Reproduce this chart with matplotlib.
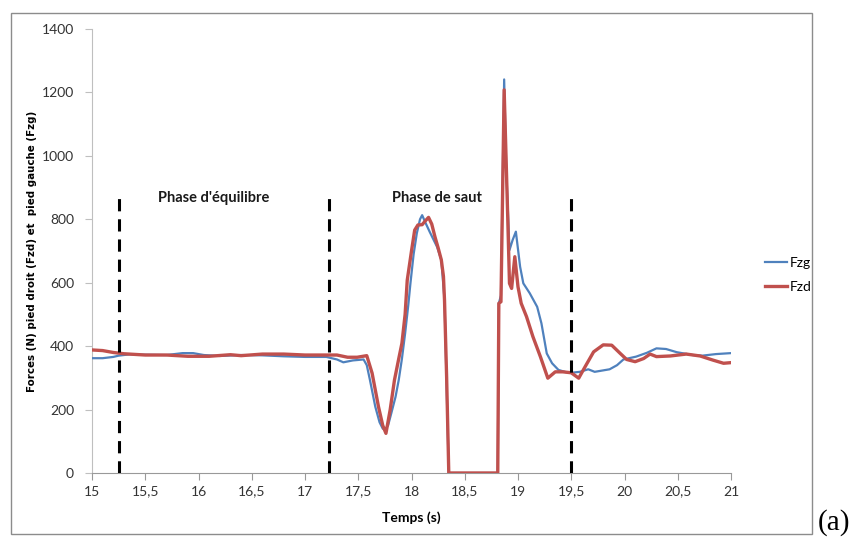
import matplotlib
matplotlib.use("Agg")
import matplotlib.pyplot as plt
from matplotlib.patches import Rectangle

# ---- data ----
t_fzg = [15.00, 15.10, 15.20, 15.25, 15.35, 15.50, 15.70, 15.85, 15.95, 16.05,
         16.20, 16.40, 16.60, 16.80, 17.00, 17.20, 17.30, 17.36, 17.45, 17.55,
         17.58, 17.61, 17.66, 17.70, 17.73, 17.75, 17.78, 17.81, 17.85, 17.88,
         17.91, 17.94, 17.97, 17.99, 18.02, 18.05, 18.08, 18.10, 18.13, 18.17,
         18.24, 18.28, 18.31, 18.35, 18.81, 18.82, 18.84, 18.87, 18.89, 18.92,
         18.95, 18.98, 19.02, 19.05, 19.11, 19.18, 19.22, 19.27, 19.32, 19.38,
         19.45, 19.50, 19.58, 19.66, 19.72, 19.86, 19.93, 19.99, 20.11, 20.21,
         20.30, 20.39, 20.49, 20.64, 20.73, 20.86, 21.00]
fzg = [362, 362, 366, 370, 374, 373, 372, 378, 378, 372,
       369, 372, 371, 368, 366, 366, 358, 349, 355, 358,
       340, 293, 209, 160, 140, 136, 150, 188, 240, 293,
       360, 440, 530, 598, 690, 756, 800, 813, 790, 761,
       713, 672, 545, 0, 0, 535, 560, 1241, 955, 703,
       735, 761, 650, 598, 567, 524, 472, 377, 346, 325,
       318, 316, 319, 327, 319, 327, 340, 358, 367, 379,
       393, 391, 381, 372, 370, 375, 378]

t_fzd = [15.00, 15.10, 15.20, 15.30, 15.50, 15.70, 15.90, 16.10, 16.30, 16.40,
         16.60, 16.80, 17.00, 17.20, 17.30, 17.40, 17.49, 17.58, 17.63, 17.69,
         17.73, 17.76, 17.80, 17.84, 17.88, 17.91, 17.94, 17.96, 18.00, 18.03,
         18.06, 18.10, 18.13, 18.16, 18.19, 18.22, 18.25, 18.28, 18.30, 18.31,
         18.33, 18.35, 18.81, 18.82, 18.84, 18.87, 18.90, 18.92, 18.94, 18.97,
         19.00, 19.03, 19.08, 19.14, 19.21, 19.28, 19.35, 19.42, 19.50, 19.57,
         19.63, 19.71, 19.80, 19.88, 19.96, 20.02, 20.10, 20.18, 20.24, 20.30,
         20.43, 20.58, 20.71, 20.83, 20.93, 21.00]
fzd = [388, 386, 380, 376, 372, 372, 368, 368, 373, 370,
       375, 375, 372, 372, 372, 365, 365, 370, 315, 209,
       150, 125, 200, 293, 360, 409, 500, 608, 700, 766,
       782, 783, 795, 806, 785, 745, 710, 672, 620, 545,
       300, 0, 0, 535, 540, 1208, 850, 598, 582, 682,
       587, 535, 493, 430, 367, 299, 319, 319, 316, 299,
       335, 382, 404, 403, 377, 358, 351, 361, 375, 367,
       369, 375, 369, 356, 346, 348]

phase_bounds = [15.25, 17.23, 19.5]
phase_labels = ["Phase d'équilibre", "Phase de saut"]
phase_label_x = [16.14, 18.24]

x_ticks = [15, 15.5, 16, 16.5, 17, 17.5, 18, 18.5, 19, 19.5, 20, 20.5, 21]
x_ticklabels = ["15", "15,5", "16", "16,5", "17", "17,5", "18", "18,5",
                "19", "19,5", "20", "20,5", "21"]
y_ticks = [0, 200, 400, 600, 800, 1000, 1200, 1400]

BLUE = "#4F81BD"
RED = "#C0504D"

fig = plt.figure(figsize=(8.52, 5.41), dpi=100)
ax = fig.add_axes([92/852, 1 - 473/541, (731 - 92)/852, (473 - 29)/541])

l1, = ax.plot(t_fzg, fzg, color=BLUE, lw=1.6, label="Fzg", zorder=3,
              solid_joinstyle="round")
l2, = ax.plot(t_fzd, fzd, color=RED, lw=2.4, label="Fzd", zorder=4,
              solid_joinstyle="round")

for xb in phase_bounds:
    ax.plot([xb, xb], [0, 890], color="black", lw=2.2,
            linestyle=(0, (4, 2.6)), zorder=5)

for lx, lt in zip(phase_label_x, phase_labels):
    ax.text(lx, 867, lt, ha="center", va="center", fontsize=10.5,
            fontweight="bold", family="Lato", color="#1a1a1a")

ax.set_xlim(15, 21)
ax.set_ylim(0, 1400)
ax.set_xticks(x_ticks)
ax.set_xticklabels(x_ticklabels)
ax.set_yticks(y_ticks)
for lab in ax.get_xticklabels() + ax.get_yticklabels():
    lab.set_family("Lato")
    lab.set_fontsize(10)
    lab.set_color("#333333")

ax.spines["top"].set_visible(False)
ax.spines["right"].set_visible(False)
ax.spines["left"].set_color("#BFBFBF")
ax.spines["bottom"].set_color("#999999")
ax.tick_params(axis="y", length=5, color="#BFBFBF", pad=8)
ax.tick_params(axis="x", length=5, color="#999999", pad=4)

ax.set_xlabel("Temps (s)", fontsize=10, fontweight="bold", family="Lato",
              labelpad=10)
ax.set_ylabel("Forces (N) pied droit (Fzd) et  pied gauche (Fzg)",
              fontsize=7.4, fontweight="bold", family="DejaVu Sans")
ax.yaxis.set_label_coords((37 - 92) / 639, 0.5)

fig.legend(handles=[l1, l2], labels=["Fzg", "Fzd"], loc="center left",
           bbox_to_anchor=(752/852, 1 - 275/541), frameon=False,
           handlelength=1.6, handletextpad=0.2,
           labelspacing=0.9, prop={"family": "Lato", "size": 10})

# outer chart border
fig.add_artist(Rectangle((10.5/852, 1 - 534/541), (811.5 - 10.5)/852,
                         (534 - 13)/541, transform=fig.transFigure,
                         fill=False, edgecolor="#8C8C8C", lw=1.0))

fig.text(818/852, 1 - 523/541, "(a)", fontsize=21, family="Liberation Serif",
         ha="left", va="center")

fig.savefig("out.png", dpi=100)
